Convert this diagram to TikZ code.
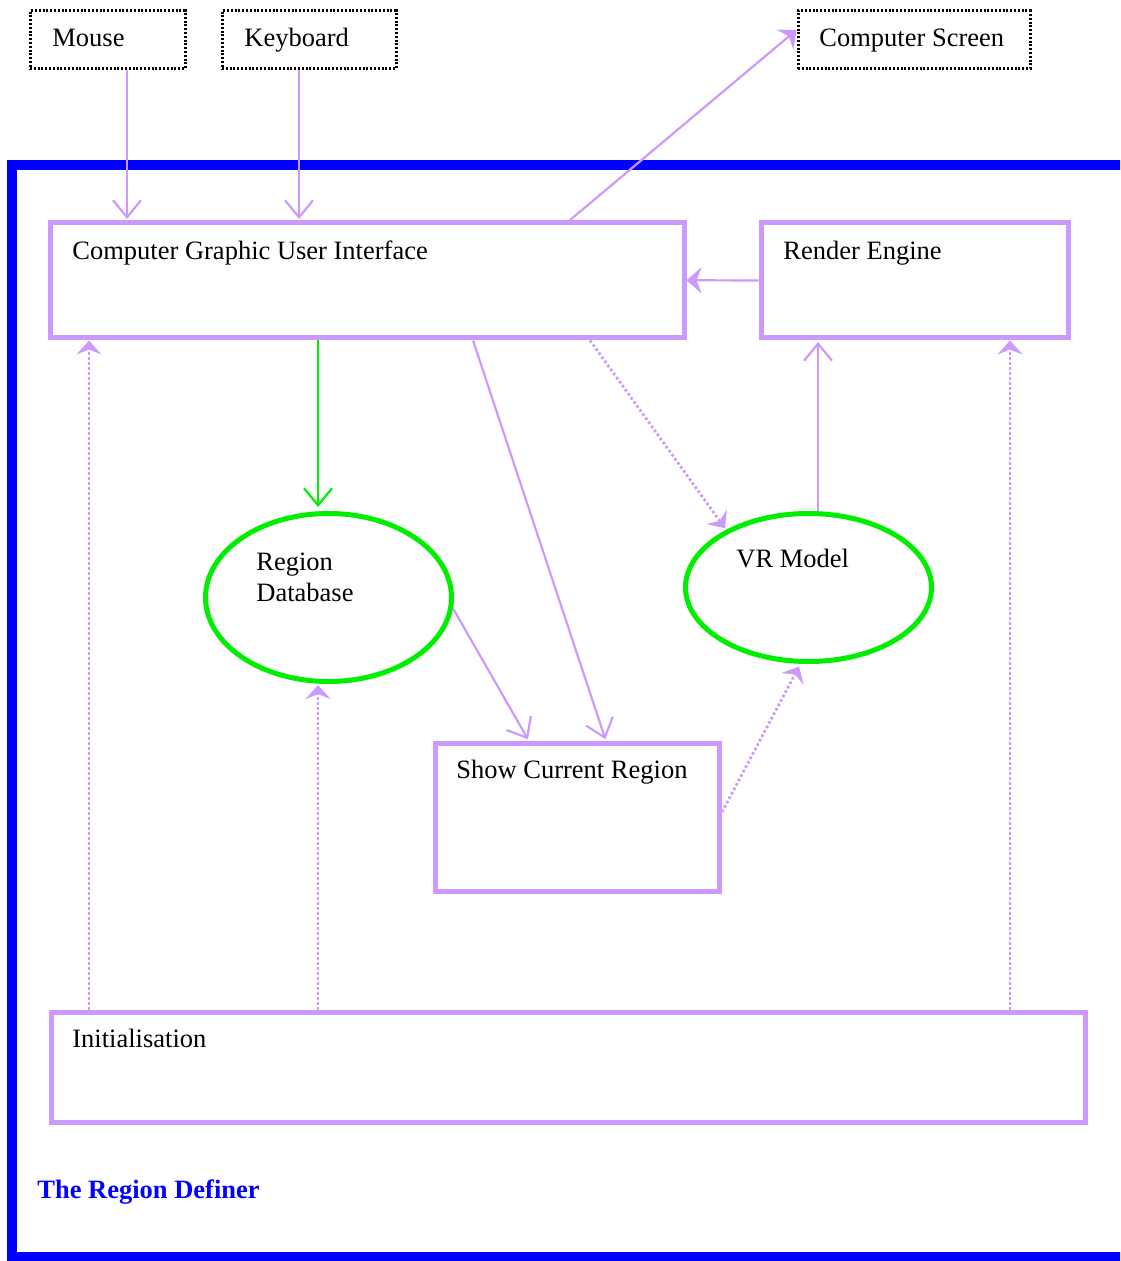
\documentclass[tikz,border=0pt]{standalone}
\usepackage{fontspec}
\setmainfont{Liberation Serif}
\usetikzlibrary{arrows.meta,shapes.geometric}
\definecolor{lav}{RGB}{204,153,255}
\definecolor{grn}{RGB}{0,238,0}
\definecolor{frameblue}{RGB}{0,0,255}
\begin{document}
\begin{tikzpicture}[x=0.5pt,y=-0.5pt,
  font=\fontsize{13.25}{15}\selectfont,
  extbox/.style={draw=black, dash pattern=on 1pt off 0.9pt, line width=1.5pt, rectangle, inner sep=0pt, minimum height=29pt},
  procbox/.style={draw=lav, line width=2.5pt, rectangle, inner sep=0pt},
  store/.style={draw=grn, line width=2.5pt, ellipse, inner sep=0pt, minimum width=123pt},
  lbl/.style={anchor=base west, inner sep=0pt},
  flow/.style={draw=lav, line width=1.1pt, -{Straight Barb[length=8.5pt,width=14pt]}},
  dataflow/.style={draw=grn, line width=1.1pt, -{Straight Barb[length=8.5pt,width=14pt]}},
  signal/.style={draw=lav, line width=1.1pt, -{Stealth[length=7.5pt,width=13pt,inset=2.5pt]}},
  ctrl/.style={draw=lav, line width=1.4pt, dash pattern=on 1.3pt off 1.2pt, -{Stealth[length=7pt,width=12.5pt,inset=2.5pt]}}]

\useasboundingbox (0,0) rectangle (1120,1261);
\clip (0,0) rectangle (1120,1261);

% system boundary
\draw[frameblue, line width=5pt] (12,165) rectangle (1145,1256.5);

% external devices
\node[extbox, minimum width=77.5pt] (mouse) at (107.5,40) {};
\node[extbox, minimum width=87pt] (keyboard) at (309,40) {};
\node[extbox, minimum width=116pt] (screen) at (914,40) {};
\node[lbl] (mousetxt) at (52,47) {Mouse};
\node[lbl] (keyboardtxt) at (244,47) {Keyboard};
\node[lbl] (screentxt) at (819,47) {Computer Screen};

% processes
\node[procbox, minimum width=316.75pt, minimum height=57.75pt] (gui) at (367.25,280.25) {};
\node[procbox, minimum width=153.5pt, minimum height=57.5pt] (render) at (914.5,280.5) {};
\node[procbox, minimum width=142pt, minimum height=74pt] (show) at (577.5,817.5) {};
\node[procbox, minimum width=517pt, minimum height=55pt] (init) at (568.5,1067.5) {};
\node[lbl] (guitxt) at (72,260) {Computer Graphic User Interface};
\node[lbl] (rendertxt) at (783,260) {Render Engine};
\node[lbl] (showtxt) at (456,778) {Show Current Region};
\node[lbl] (inittxt) at (72,1047) {Initialisation};

% data stores
\node[store, minimum height=84pt] (regiondb) at (328.5,597.5) {};
\node[store, minimum height=74pt] (vrmodel) at (808.5,587.5) {};
\node[lbl] (regiontxt) at (256,570) {Region};
\node[lbl] (databasetxt) at (256,601) {Database};
\node[lbl] (vrtxt) at (736,567) {VR Model};

% caption
\node[lbl, text=frameblue, font=\fontsize{13.25}{15}\selectfont\bfseries] (caption) at (37,1198) {The Region Definer};

% input devices into the interface
\draw[flow, shorten >=0.5pt] ([xshift=9.75pt]mouse.south) coordinate (m0) -- (m0 |- gui.north);
\draw[flow, shorten >=0.5pt] ([xshift=-5pt]keyboard.south) coordinate (k0) -- (k0 |- gui.north);

% interface to screen, engine to interface
\draw[signal] ([xshift=101.4pt]gui.north) -- ([yshift=5pt]screen.west);
\draw[signal] (render.west) -- (gui.east);

% model to engine
\draw[flow, shorten >=0.75pt] ([xshift=4.75pt]vrmodel.north) coordinate (v0) -- (v0 |- render.south);

% interface to stores and region display
\draw[dataflow, shorten >=2pt] ([xshift=-24.6pt]gui.south) coordinate (g0) -- (g0 |- regiondb.north);
\draw[ctrl, shorten >=1pt] ([xshift=111.4pt]gui.south) -- (vrmodel.145);
\draw[flow, shorten >=1pt] ([xshift=52.9pt]gui.south) -- ([xshift=14.25pt]show.north);
\draw[flow, shorten >=1pt] (regiondb.-5) -- ([xshift=-24.25pt]show.north);
\draw[ctrl, shorten >=1.5pt] ([yshift=2.75pt]show.east) -- (vrmodel.-96);

% initialisation links
\draw[ctrl] ([xshift=20pt]init.north west) coordinate (i0) -- (i0 |- gui.south);
\draw[ctrl, shorten >=0.5pt] ([xshift=134.5pt]init.north west) coordinate (i1) -- (i1 |- regiondb.south);
\draw[ctrl] ([xshift=480.5pt]init.north west) coordinate (i2) -- (i2 |- render.south);
\end{tikzpicture}
\end{document}
